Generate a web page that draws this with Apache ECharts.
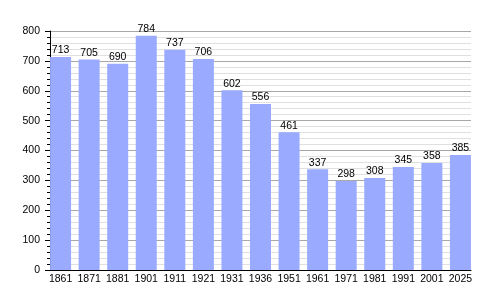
<!DOCTYPE html>
<html><head><meta charset="utf-8">
<script src="https://cdn.jsdelivr.net/npm/echarts@6/dist/echarts.min.js"></script>
<style>html,body{margin:0;padding:0;background:#fff}#c{width:500px;height:300px}</style>
</head><body><div id="c"></div>
<script>
var years = ['1861','1871','1881','1901','1911','1921','1931','1936','1951','1961','1971','1981','1991','2001','2025'];
var population = [713,705,690,784,737,706,602,556,461,337,298,308,345,358,385];
var yTicks = [0,100,200,300,400,500,600,700,800];

var FONT = 'Liberation Sans, Arial, sans-serif';
var chart = echarts.init(document.getElementById('c'), null, {renderer:'canvas'});
var idx = years.map(function(_, i){ return i; });
chart.setOption({
  animation:false,
  grid:{left:50, right:29, top:31, bottom:30, containLabel:false},
  xAxis:{
    type:'value', min:-0.37, max:14.37,
    axisLine:{show:true, onZero:false, lineStyle:{color:'#000', width:1}},
    axisTick:{show:false},
    splitLine:{show:false},
    axisLabel:{customValues:idx, formatter:function(v){return years[Math.round(v)];},
      fontFamily:FONT, fontSize:10.5, color:'#000', margin:4}
  },
  yAxis:{
    type:'value', min:yTicks[0], max:yTicks[yTicks.length-1], interval:100,
    axisLine:{show:true, onZero:false, lineStyle:{color:'#000', width:1}},
    axisTick:{show:true, length:5, lineStyle:{color:'#000'}},
    minorTick:{show:true, splitNumber:5, length:3, lineStyle:{color:'#000'}},
    splitLine:{show:true, lineStyle:{color:'#a8a8a8', width:1}},
    minorSplitLine:{show:true, lineStyle:{color:'#e0e0e0', width:1}},
    axisLabel:{fontFamily:FONT, fontSize:10.5, color:'#000', margin:10}
  },
  series:[{
    type:'bar', barWidth:21,
    data: population.map(function(v,i){return [i,v];}),
    itemStyle:{color:'#99aaff'},
    label:{show:true, position:'top', distance:1, color:'#000',
      fontFamily:FONT, fontSize:10.5,
      formatter:function(p){return p.value[1];}}
  }]
});
</script></body></html>
